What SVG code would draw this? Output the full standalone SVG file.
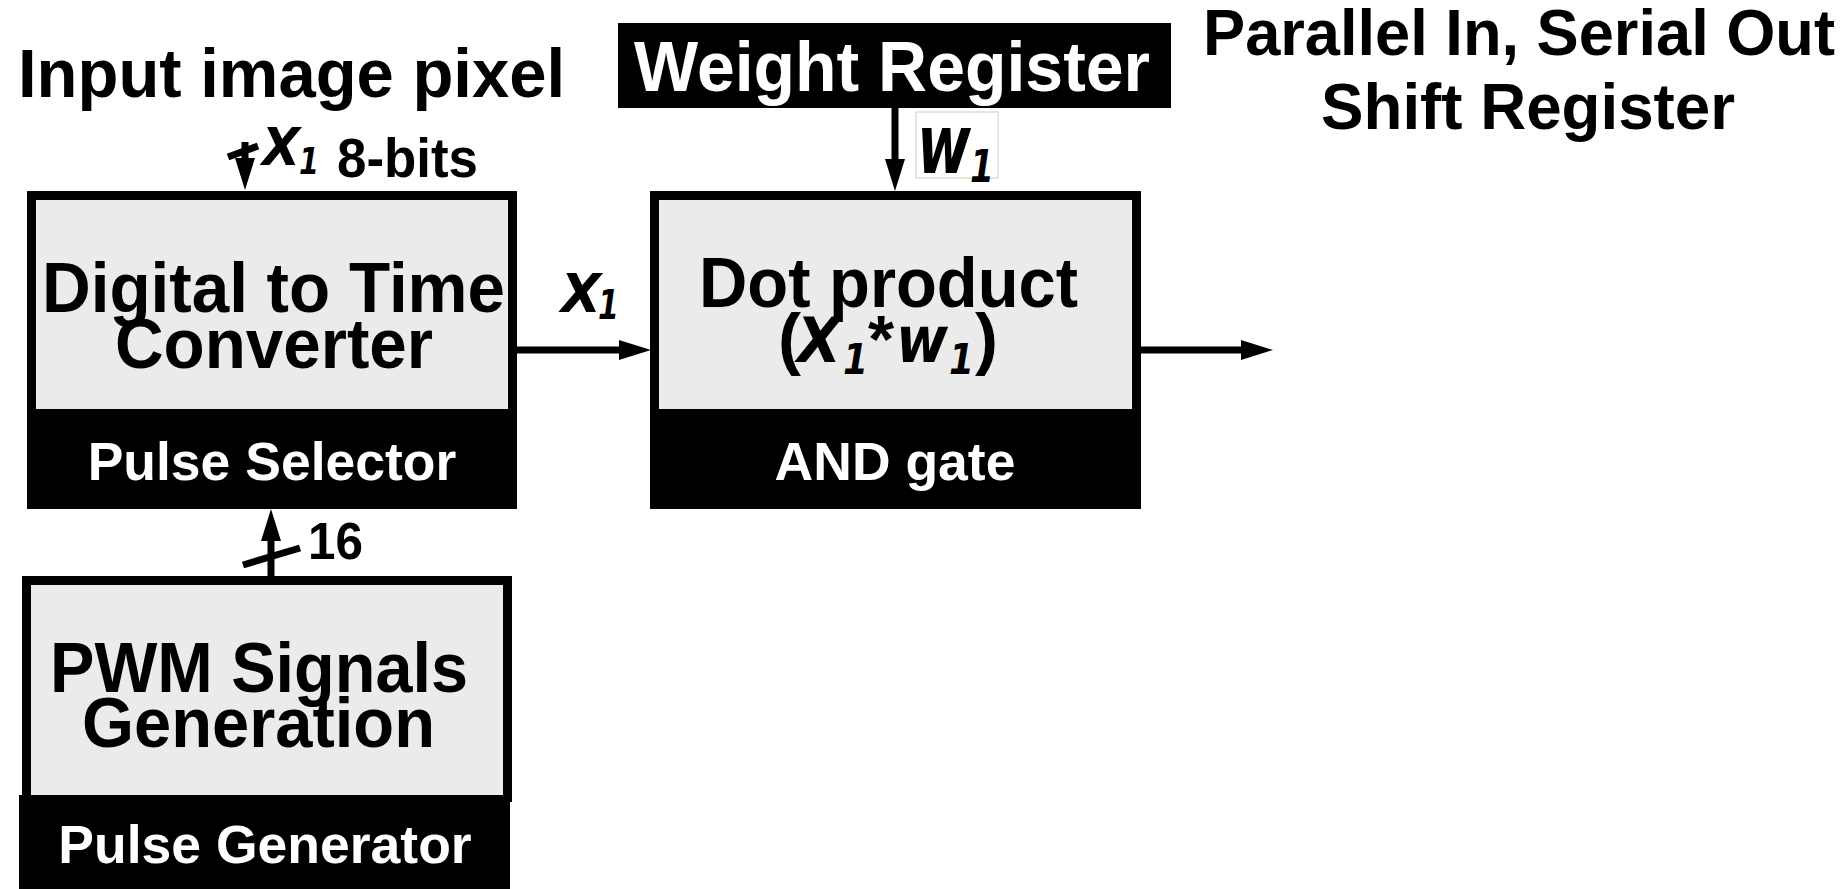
<svg xmlns="http://www.w3.org/2000/svg" width="1846" height="889" viewBox="0 0 1846 889">
  <style>
    .t { font-family: "Liberation Sans", Arial, sans-serif; font-weight: bold; fill: #000; }
    .w { font-family: "Liberation Sans", Arial, sans-serif; font-weight: bold; fill: #fff; }
    .it { font-family: "DejaVu Sans", sans-serif; font-style: italic; font-weight: bold; fill: #000; }
    .frame { fill: #000; }
    .inner { fill: #ebebeb; }
    .conn { stroke: #000; stroke-width: 7; fill: none; }
  </style>
  <defs>
    <marker id="ah" markerUnits="userSpaceOnUse" markerWidth="32" markerHeight="20" refX="0" refY="10" orient="auto">
      <path d="M0,0 L32,10 L0,20 z" fill="#000"/>
    </marker>
  </defs>
  <rect width="1846" height="889" fill="#fff"/>

  <g id="title-input">
    <text class="t" x="18" y="97" font-size="69" textLength="547" lengthAdjust="spacingAndGlyphs">Input image pixel</text>
  </g>

  <g id="title-piso">
    <text class="t" x="1203" y="55" font-size="64" textLength="632" lengthAdjust="spacingAndGlyphs">Parallel In, Serial Out</text>
    <text class="t" x="1321" y="129" font-size="64" textLength="414" lengthAdjust="spacingAndGlyphs">Shift Register</text>
  </g>

  <g id="weight-register">
    <rect class="frame" x="618" y="23" width="553" height="85"/>
    <text class="w" x="634" y="91" font-size="70" textLength="516" lengthAdjust="spacingAndGlyphs">Weight Register</text>
  </g>

  <g id="dtc">
    <rect class="frame" x="27" y="191" width="490" height="318"/>
    <rect class="inner" x="36" y="200" width="472" height="209"/>
    <text class="t" x="42" y="312" font-size="70" textLength="463" lengthAdjust="spacingAndGlyphs">Digital to Time</text>
    <text class="t" x="115" y="368" font-size="70" textLength="318" lengthAdjust="spacingAndGlyphs">Converter</text>
    <text class="w" x="272" y="480" font-size="53.5" text-anchor="middle">Pulse Selector</text>
  </g>

  <g id="dot-product">
    <rect class="frame" x="650" y="191" width="491" height="318"/>
    <rect class="inner" x="659" y="200" width="473" height="209"/>
    <text class="t" x="699" y="307" font-size="70" textLength="379" lengthAdjust="spacingAndGlyphs">Dot product</text>
    <text class="t" x="778" y="362" font-size="69">(</text>
    <text class="it" x="797" y="362" font-size="62" textLength="44" lengthAdjust="spacingAndGlyphs">X</text>
    <text class="it" x="843" y="374" font-size="42" textLength="25" lengthAdjust="spacingAndGlyphs">1</text>
    <text class="t" x="868" y="362" font-size="67">*</text>
    <text class="it" x="896" y="362" font-size="64" textLength="52" lengthAdjust="spacingAndGlyphs">w</text>
    <text class="it" x="949" y="374" font-size="42" textLength="25" lengthAdjust="spacingAndGlyphs">1</text>
    <text class="t" x="975" y="362" font-size="69">)</text>
    <text class="w" x="895" y="480" font-size="53.5" text-anchor="middle">AND gate</text>
  </g>

  <g id="pwm">
    <rect class="frame" x="22" y="576" width="490" height="226"/>
    <rect class="inner" x="31" y="585" width="472" height="210"/>
    <rect class="frame" x="19" y="795" width="491" height="94"/>
    <text class="t" x="50" y="692" font-size="70" textLength="418" lengthAdjust="spacingAndGlyphs">PWM Signals</text>
    <text class="t" x="82" y="747" font-size="70" textLength="353" lengthAdjust="spacingAndGlyphs">Generation</text>
    <text class="w" x="265" y="863" font-size="53.5" text-anchor="middle">Pulse Generator</text>
  </g>

  <g id="connectors">
    <line class="conn" x1="245" y1="142" x2="245" y2="158" marker-end="url(#ah)"/>
    <line class="conn" x1="228" y1="157" x2="258" y2="146" stroke-width="6"/>
    <line class="conn" x1="895" y1="108" x2="895" y2="159" marker-end="url(#ah)"/>
    <line class="conn" x1="517" y1="350" x2="619" y2="350" marker-end="url(#ah)"/>
    <line class="conn" x1="1141" y1="350" x2="1241" y2="350" marker-end="url(#ah)"/>
    <line class="conn" x1="271" y1="576" x2="271" y2="541" marker-end="url(#ah)"/>
    <line class="conn" x1="243" y1="565" x2="300" y2="548"/>
  </g>

  <g id="labels">
    <text class="it" x="262" y="165" font-size="52" textLength="38" lengthAdjust="spacingAndGlyphs">X</text>
    <text class="it" x="299" y="174" font-size="37" textLength="20" lengthAdjust="spacingAndGlyphs">1</text>
    <text class="t" x="337" y="177" font-size="55" textLength="141" lengthAdjust="spacingAndGlyphs">8-bits</text>

    <rect x="916" y="112" width="82" height="66" fill="#fff" stroke="#cccccc" stroke-width="1"/>
    <text class="it" x="917" y="173" font-size="82" textLength="54" lengthAdjust="spacingAndGlyphs">w</text>
    <text class="it" x="970" y="182" font-size="44" textLength="24" lengthAdjust="spacingAndGlyphs">1</text>

    <text class="it" x="561" y="312" font-size="54" textLength="40" lengthAdjust="spacingAndGlyphs">X</text>
    <text class="it" x="598" y="319" font-size="40" textLength="21" lengthAdjust="spacingAndGlyphs">1</text>

    <text class="t" x="308" y="559" font-size="52" textLength="55" lengthAdjust="spacingAndGlyphs">16</text>
  </g>
</svg>
